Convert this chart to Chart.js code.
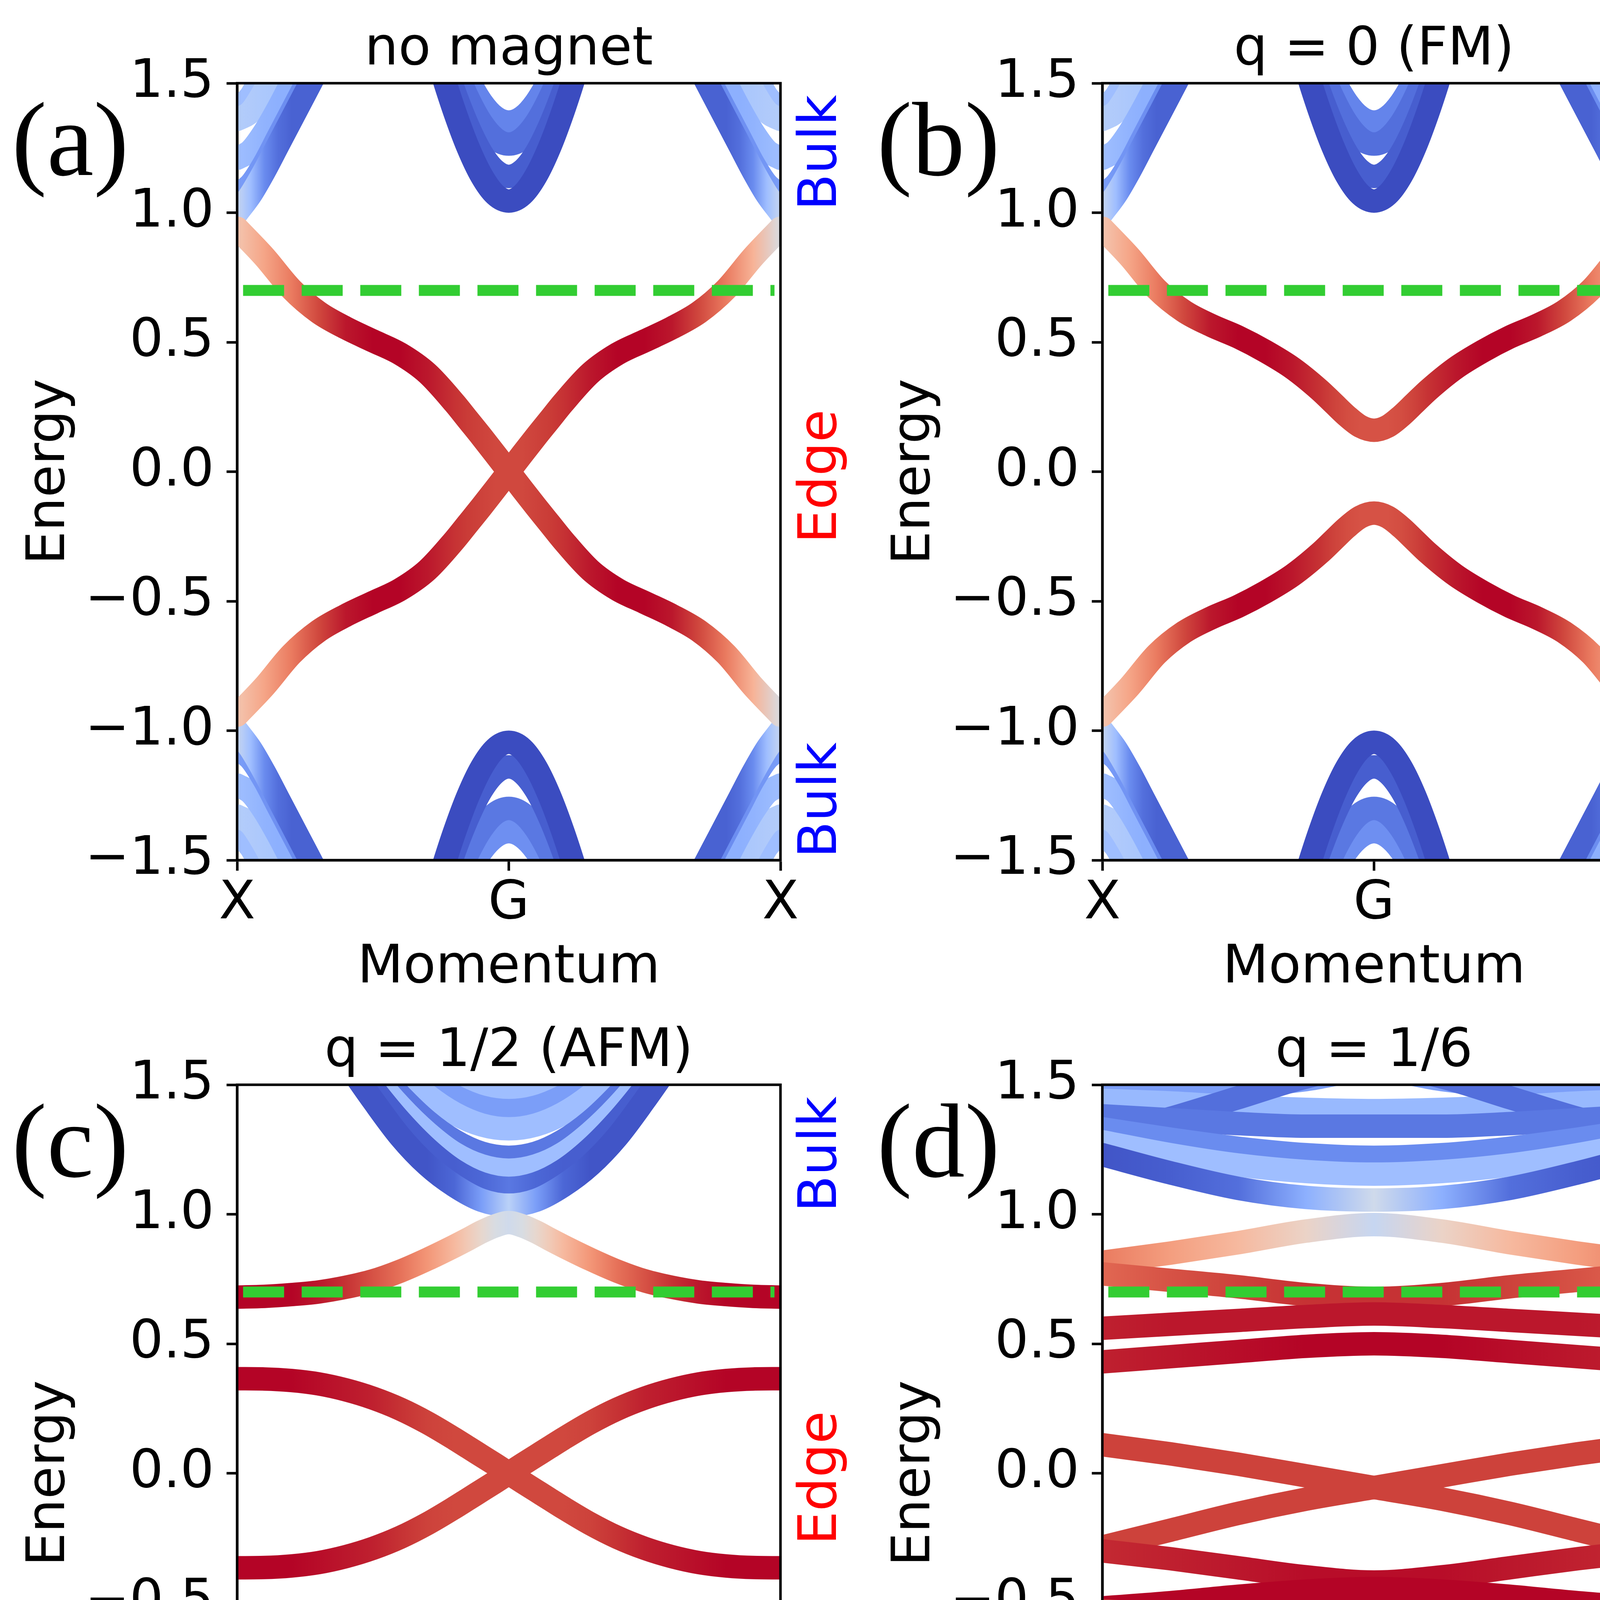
<!DOCTYPE html>
<html><head><meta charset="utf-8">
<script src="https://cdn.jsdelivr.net/npm/chart.js@4.4.0/dist/chart.umd.min.js"></script>
<style>
html,body{margin:0;padding:0;background:#fff;}
#wrap{position:relative;width:4430px;height:5178px;background:#fff;overflow:hidden;}
canvas{position:absolute;width:2215px;height:2589px;}
</style></head><body><div id="wrap">
<canvas id="ca" width="2215" height="2589" style="left:0px;top:0px"></canvas>
<canvas id="cb" width="2215" height="2589" style="left:2215px;top:0px"></canvas>
<canvas id="cc" width="2215" height="2589" style="left:0px;top:2564px"></canvas>
<canvas id="cd" width="2215" height="2589" style="left:2215px;top:2564px"></canvas>
</div>
<script>
// ---------------- axis / label data ----------------
const yTicks = [-1.5, -1.0, -0.5, 0.0, 0.5, 1.0, 1.5];
const xTickVals = [-1, 0, 1];
const xTickLabels = ['X', 'G', 'X'];
const panelTitles = ['no magnet', 'q = 0 (FM)', 'q = 1/2 (AFM)', 'q = 1/6'];
const panelTags = ['(a)', '(b)', '(c)', '(d)'];
const sideLabels = ['Bulk', 'Edge', 'Bulk'];
const sideLabelE = [1.25, 0, -1.25];
const sideLabelColors = ['#0000ff', '#ff0000', '#0000ff'];
const fermiE = 0.7;
const fermiK = [-0.978, 0.978];

// ---------------- momentum grids ----------------
const kE = [-1,-0.9,-0.8,-0.7,-0.6,-0.5,-0.4,-0.3,-0.2,-0.15,-0.1,-0.05,0,0.05,0.1,0.15,0.2,0.3,0.4,0.5,0.6,0.7,0.8,0.9,1];
const kG = [-0.35,-0.3,-0.25,-0.2,-0.15,-0.1,-0.05,0,0.05,0.1,0.15,0.2,0.25,0.3,0.35];
const kXL = [-1,-0.95,-0.9,-0.85,-0.8,-0.75,-0.7,-0.65,-0.6];
const kXR = [0.6,0.65,0.7,0.75,0.8,0.85,0.9,0.95,1];
const kC = [-0.8,-0.7,-0.6,-0.5,-0.4,-0.3,-0.2,-0.1,0,0.1,0.2,0.3,0.4,0.5,0.6,0.7,0.8];
const kD = [-1,-0.75,-0.5,-0.25,0,0.25,0.5,0.75,1];

// ---------------- (a) no magnet ----------------
const aEdgeDown = [0.94,0.83,0.705,0.615,0.555,0.505,0.455,0.38,0.265,0.2,0.135,0.068,0,-0.068,-0.135,-0.2,-0.265,-0.38,-0.455,-0.505,-0.555,-0.615,-0.705,-0.83,-0.94];
const aEdgeUp = [-0.94,-0.83,-0.705,-0.615,-0.555,-0.505,-0.455,-0.38,-0.265,-0.2,-0.135,-0.068,0,0.068,0.135,0.2,0.265,0.38,0.455,0.505,0.555,0.615,0.705,0.83,0.94];
const aEdgeW = [0.62,0.72,0.82,0.92,0.98,1,1,0.98,0.95,0.94,0.93,0.92,0.92,0.92,0.93,0.94,0.95,0.98,1,1,0.98,0.92,0.82,0.68,0.48];

// ---------------- (b) q = 0 ----------------
const bEdgeUpper = [0.94,0.83,0.705,0.62,0.565,0.52,0.465,0.4,0.315,0.265,0.215,0.175,0.16,0.175,0.215,0.265,0.315,0.4,0.465,0.52,0.565,0.62,0.705,0.83,0.94];
const bEdgeLower = [-0.94,-0.83,-0.705,-0.62,-0.565,-0.52,-0.465,-0.4,-0.315,-0.265,-0.215,-0.175,-0.16,-0.175,-0.215,-0.265,-0.315,-0.4,-0.465,-0.52,-0.565,-0.62,-0.705,-0.83,-0.94];
const bEdgeW = [0.62,0.72,0.82,0.92,0.98,1,1,0.98,0.95,0.93,0.91,0.9,0.9,0.9,0.91,0.93,0.95,0.98,1,1,0.98,0.92,0.82,0.72,0.6];

// bulk bands shared by (a) and (b): around G
const abBulkGUp = [
  [1.919,1.731,1.554,1.392,1.252,1.142,1.070,1.045,1.070,1.142,1.252,1.392,1.554,1.731,1.919],
  [1.97,1.78,1.619,1.465,1.333,1.229,1.163,1.14,1.163,1.229,1.333,1.465,1.619,1.78,1.97],
  [2.04,1.87,1.71,1.564,1.441,1.346,1.286,1.265,1.286,1.346,1.441,1.564,1.71,1.87,2.04],
  [2.08,1.92,1.77,1.63,1.516,1.426,1.369,1.35,1.369,1.426,1.516,1.63,1.77,1.92,2.08]
];
const abBulkGUpW = [0.0, 0.04, 0.08, 0.13];
const abBulkGLow = [
  [-1.919,-1.731,-1.554,-1.392,-1.252,-1.142,-1.070,-1.045,-1.070,-1.142,-1.252,-1.392,-1.554,-1.731,-1.919],
  [-1.97,-1.78,-1.619,-1.465,-1.333,-1.229,-1.163,-1.14,-1.163,-1.229,-1.333,-1.465,-1.619,-1.78,-1.97],
  [-2.07,-1.9,-1.74,-1.592,-1.472,-1.379,-1.32,-1.30,-1.32,-1.379,-1.472,-1.592,-1.74,-1.9,-2.07],
  [-2.12,-1.96,-1.81,-1.67,-1.552,-1.464,-1.409,-1.39,-1.409,-1.464,-1.552,-1.67,-1.81,-1.96,-2.12]
];
const abBulkGLowW = [0.0, 0.04, 0.1, 0.16];
// bulk bands near X (left side listed from k=-1 inward)
const abBulkXUp = [
  [1.40,1.45,1.55,1.65,1.75,1.85,1.95,2.05,2.15],
  [1.36,1.39,1.47,1.57,1.67,1.77,1.87,1.97,2.07],
  [1.21,1.24,1.31,1.40,1.50,1.60,1.70,1.80,1.90],
  [1.07,1.11,1.19,1.29,1.39,1.49,1.59,1.69,1.79],
  [1.00,1.07,1.16,1.26,1.36,1.46,1.56,1.66,1.76]
];
const abBulkXUpW = [
  [0.3,0.3,0.3,0.3,0.3,0.3,0.3,0.3,0.3],
  [0.36,0.35,0.34,0.33,0.33,0.33,0.33,0.33,0.33],
  [0.3,0.28,0.26,0.25,0.25,0.25,0.25,0.25,0.25],
  [0.2,0.18,0.17,0.16,0.15,0.15,0.15,0.15,0.15],
  [0.42,0.3,0.15,0.08,0.05,0.05,0.05,0.05,0.05]
];
const abBulkXLow = [
  [-1.40,-1.45,-1.55,-1.65,-1.75,-1.85,-1.95,-2.05,-2.15],
  [-1.33,-1.36,-1.44,-1.54,-1.64,-1.74,-1.84,-1.94,-2.04],
  [-1.21,-1.24,-1.31,-1.40,-1.50,-1.60,-1.70,-1.80,-1.90],
  [-1.07,-1.11,-1.19,-1.29,-1.39,-1.49,-1.59,-1.69,-1.79],
  [-1.00,-1.07,-1.16,-1.26,-1.36,-1.46,-1.56,-1.66,-1.76]
];
const abBulkXLowW = abBulkXUpW;

// ---------------- (c) q = 1/2 ----------------
const cEdgeTop = [0.68,0.683,0.69,0.70,0.718,0.743,0.78,0.826,0.877,0.904,0.932,0.955,0.968,0.955,0.932,0.904,0.877,0.826,0.78,0.743,0.718,0.70,0.69,0.683,0.68];
const cEdgeBot = [-0.68,-0.683,-0.69,-0.70,-0.718,-0.743,-0.78,-0.826,-0.877,-0.904,-0.932,-0.955,-0.968,-0.955,-0.932,-0.904,-0.877,-0.826,-0.78,-0.743,-0.718,-0.70,-0.69,-0.683,-0.68];
const cEdgeOuterW = [1,1,1,0.98,0.95,0.9,0.84,0.76,0.66,0.6,0.54,0.48,0.45,0.48,0.54,0.6,0.66,0.76,0.84,0.9,0.95,0.98,1,1,1];
const cEdgeMidDown = [0.365,0.364,0.358,0.345,0.322,0.29,0.248,0.195,0.133,0.1,0.067,0.034,0,-0.034,-0.067,-0.1,-0.133,-0.195,-0.248,-0.29,-0.322,-0.345,-0.358,-0.364,-0.365];
const cEdgeMidUp = [-0.365,-0.364,-0.358,-0.345,-0.322,-0.29,-0.248,-0.195,-0.133,-0.1,-0.067,-0.034,0,0.034,0.067,0.1,0.133,0.195,0.248,0.29,0.322,0.345,0.358,0.364,0.365];
const cEdgeMidW = [1,1,1,0.99,0.98,0.97,0.95,0.93,0.92,0.92,0.92,0.92,0.92,0.92,0.92,0.92,0.92,0.93,0.95,0.97,0.98,0.99,1,1,1];
const cBulkUp = [
  [2.2,2.06,1.92,1.80,1.69,1.60,1.533,1.493,1.48,1.493,1.533,1.60,1.69,1.80,1.92,2.06,2.2],
  [2.13,1.98,1.84,1.72,1.61,1.52,1.456,1.414,1.40,1.414,1.456,1.52,1.61,1.72,1.84,1.98,2.13],
  [2.09,1.93,1.79,1.66,1.552,1.459,1.389,1.345,1.33,1.345,1.389,1.459,1.552,1.66,1.79,1.93,2.09],
  [2.02,1.86,1.71,1.577,1.459,1.359,1.284,1.236,1.22,1.236,1.284,1.359,1.459,1.577,1.71,1.86,2.02],
  [2.0,1.83,1.68,1.539,1.417,1.315,1.235,1.187,1.17,1.187,1.235,1.315,1.417,1.539,1.68,1.83,2.0],
  [1.95,1.78,1.628,1.487,1.36,1.253,1.17,1.118,1.10,1.118,1.17,1.253,1.36,1.487,1.628,1.78,1.95],
  [1.91,1.745,1.59,1.44,1.30,1.19,1.11,1.054,1.035,1.054,1.11,1.19,1.30,1.44,1.59,1.745,1.91]
];
const cBulkUpW = [
  [0.3,0.3,0.3,0.3,0.3,0.3,0.3,0.3,0.3,0.3,0.3,0.3,0.3,0.3,0.3,0.3,0.3],
  [0.2,0.2,0.2,0.2,0.2,0.2,0.2,0.2,0.2,0.2,0.2,0.2,0.2,0.2,0.2,0.2,0.2],
  [0.3,0.3,0.3,0.3,0.3,0.3,0.3,0.3,0.3,0.3,0.3,0.3,0.3,0.3,0.3,0.3,0.3],
  [0.1,0.1,0.1,0.1,0.1,0.1,0.1,0.1,0.1,0.1,0.1,0.1,0.1,0.1,0.1,0.1,0.1],
  [0.3,0.3,0.3,0.3,0.3,0.3,0.3,0.3,0.3,0.3,0.3,0.3,0.3,0.3,0.3,0.3,0.3],
  [0.04,0.04,0.04,0.04,0.04,0.04,0.04,0.06,0.1,0.06,0.04,0.04,0.04,0.04,0.04,0.04,0.04],
  [0.02,0.02,0.02,0.02,0.02,0.02,0.06,0.2,0.38,0.2,0.06,0.02,0.02,0.02,0.02,0.02,0.02]
];
const cBulkLow = [
  [-2.14,-1.99,-1.85,-1.73,-1.66,-1.585,-1.523,-1.484,-1.47,-1.484,-1.523,-1.585,-1.66,-1.73,-1.85,-1.99,-2.14],
  [-2.09,-1.93,-1.79,-1.66,-1.552,-1.459,-1.389,-1.345,-1.33,-1.345,-1.389,-1.459,-1.552,-1.66,-1.79,-1.93,-2.09],
  [-2.04,-1.88,-1.73,-1.60,-1.484,-1.387,-1.312,-1.266,-1.25,-1.266,-1.312,-1.387,-1.484,-1.60,-1.73,-1.88,-2.04],
  [-2.0,-1.83,-1.68,-1.539,-1.417,-1.315,-1.235,-1.187,-1.17,-1.187,-1.235,-1.315,-1.417,-1.539,-1.68,-1.83,-2.0],
  [-1.95,-1.78,-1.628,-1.487,-1.36,-1.253,-1.17,-1.118,-1.10,-1.118,-1.17,-1.253,-1.36,-1.487,-1.628,-1.78,-1.95],
  [-1.91,-1.745,-1.59,-1.44,-1.30,-1.19,-1.11,-1.054,-1.035,-1.054,-1.11,-1.19,-1.30,-1.44,-1.59,-1.745,-1.91]
];
const cBulkLowW = [
  [0.2,0.2,0.2,0.2,0.2,0.2,0.2,0.2,0.2,0.2,0.2,0.2,0.2,0.2,0.2,0.2,0.2],
  [0.3,0.3,0.3,0.3,0.3,0.3,0.3,0.3,0.3,0.3,0.3,0.3,0.3,0.3,0.3,0.3,0.3],
  [0.1,0.1,0.1,0.1,0.1,0.1,0.1,0.1,0.1,0.1,0.1,0.1,0.1,0.1,0.1,0.1,0.1],
  [0.3,0.3,0.3,0.3,0.3,0.3,0.3,0.3,0.3,0.3,0.3,0.3,0.3,0.3,0.3,0.3,0.3],
  [0.04,0.04,0.04,0.04,0.04,0.04,0.04,0.06,0.1,0.06,0.04,0.04,0.04,0.04,0.04,0.04,0.04],
  [0.02,0.02,0.02,0.02,0.02,0.02,0.06,0.2,0.38,0.2,0.06,0.02,0.02,0.02,0.02,0.02,0.02]
];

// ---------------- (d) q = 1/6 ----------------
const dEdge = [
  [0.815,0.85,0.89,0.935,0.96,0.935,0.89,0.85,0.815],
  [0.77,0.745,0.72,0.69,0.675,0.69,0.72,0.745,0.77],
  [0.56,0.575,0.59,0.605,0.615,0.605,0.59,0.575,0.56],
  [0.43,0.45,0.47,0.49,0.5,0.49,0.47,0.45,0.43],
  [0.11,0.075,0.035,-0.01,-0.055,-0.1,-0.155,-0.22,-0.285],
  [-0.285,-0.22,-0.155,-0.1,-0.055,-0.01,0.035,0.075,0.11],
  [-0.30,-0.33,-0.365,-0.40,-0.42,-0.40,-0.365,-0.33,-0.30],
  [-0.52,-0.50,-0.475,-0.455,-0.445,-0.455,-0.475,-0.50,-0.52],
  [-0.53,-0.55,-0.565,-0.575,-0.58,-0.575,-0.565,-0.55,-0.53],
  [-0.67,-0.655,-0.64,-0.625,-0.615,-0.625,-0.64,-0.655,-0.67],
  [-0.88,-0.895,-0.915,-0.945,-0.965,-0.945,-0.915,-0.895,-0.88]
];
const dEdgeW = [
  [0.82,0.74,0.66,0.56,0.42,0.56,0.66,0.74,0.82],
  [0.86,0.9,0.93,0.95,0.95,0.95,0.93,0.9,0.86],
  [0.97,0.98,0.98,0.98,0.98,0.98,0.98,0.98,0.97],
  [0.97,0.98,0.99,1,1,1,0.99,0.98,0.97],
  [0.93,0.93,0.93,0.93,0.93,0.93,0.93,0.93,0.93],
  [0.93,0.93,0.93,0.93,0.93,0.93,0.93,0.93,0.93],
  [0.96,0.97,0.98,0.99,0.99,0.99,0.98,0.97,0.96],
  [1,1,1,1,1,1,1,1,1],
  [0.95,0.95,0.95,0.95,0.95,0.95,0.95,0.95,0.95],
  [0.88,0.88,0.89,0.9,0.9,0.9,0.89,0.88,0.88],
  [0.82,0.76,0.68,0.57,0.42,0.57,0.68,0.76,0.82]
];
const dBulkUp = [
  [1.46,1.47,1.49,1.52,1.56,1.52,1.49,1.47,1.46],
  [1.44,1.43,1.415,1.405,1.40,1.405,1.415,1.43,1.44],
  [1.30,1.37,1.45,1.53,1.58,1.53,1.45,1.37,1.30],
  [1.38,1.365,1.35,1.34,1.34,1.34,1.35,1.365,1.38],
  [1.33,1.29,1.255,1.23,1.22,1.23,1.255,1.29,1.33],
  [1.28,1.23,1.19,1.165,1.155,1.165,1.19,1.23,1.28],
  [1.23,1.16,1.10,1.065,1.055,1.065,1.10,1.16,1.23]
];
const dBulkUpW = [
  [0.2,0.2,0.2,0.2,0.2,0.2,0.2,0.2,0.2],
  [0.28,0.28,0.28,0.28,0.28,0.28,0.28,0.28,0.28],
  [0.08,0.08,0.08,0.08,0.08,0.08,0.08,0.08,0.08],
  [0.1,0.1,0.1,0.1,0.1,0.1,0.1,0.1,0.1],
  [0.15,0.15,0.15,0.15,0.15,0.15,0.15,0.15,0.15],
  [0.3,0.3,0.3,0.3,0.3,0.3,0.3,0.3,0.3],
  [0.02,0.04,0.08,0.25,0.45,0.25,0.08,0.04,0.02]
];
const dBulkLow = [
  [-1.44,-1.46,-1.49,-1.52,-1.55,-1.52,-1.49,-1.46,-1.44],
  [-1.42,-1.41,-1.40,-1.39,-1.385,-1.39,-1.40,-1.41,-1.42],
  [-1.30,-1.36,-1.44,-1.52,-1.57,-1.52,-1.44,-1.36,-1.30],
  [-1.36,-1.345,-1.33,-1.32,-1.32,-1.32,-1.33,-1.345,-1.36],
  [-1.30,-1.27,-1.24,-1.22,-1.215,-1.22,-1.24,-1.27,-1.30],
  [-1.27,-1.22,-1.18,-1.16,-1.15,-1.16,-1.18,-1.22,-1.27],
  [-1.22,-1.15,-1.09,-1.05,-1.035,-1.05,-1.09,-1.15,-1.22]
];
const dBulkLowW = [
  [0.1,0.1,0.1,0.1,0.1,0.1,0.1,0.1,0.1],
  [0.3,0.3,0.3,0.3,0.3,0.3,0.3,0.3,0.3],
  [0.15,0.15,0.15,0.15,0.15,0.15,0.15,0.15,0.15],
  [0.08,0.08,0.08,0.08,0.08,0.08,0.08,0.08,0.08],
  [0.35,0.35,0.35,0.35,0.35,0.35,0.35,0.35,0.35],
  [0.2,0.2,0.2,0.2,0.2,0.2,0.2,0.2,0.2],
  [0.05,0.05,0.1,0.3,0.45,0.3,0.1,0.05,0.05]
];

// ---------------- colormap (coolwarm) ----------------
const CW = [[0,59,76,192],[0.0625,77,104,215],[0.125,98,130,234],[0.1875,119,154,247],[0.25,141,176,254],[0.3125,163,194,255],[0.375,184,208,249],[0.4375,204,217,238],[0.5,221,221,221],[0.5625,236,211,198],[0.625,245,196,173],[0.6875,247,177,148],[0.75,244,154,123],[0.8125,236,127,99],[0.875,222,96,77],[0.9375,203,62,56],[1,180,4,38]];
function coolwarm(t){
  t = Math.max(0, Math.min(1, t));
  for (let i = 1; i < CW.length; i++) {
    if (t <= CW[i][0]) {
      const a = CW[i-1], b = CW[i], f = (t - a[0]) / (b[0] - a[0]);
      const c = [1,2,3].map(j => Math.round(a[j] + (b[j]-a[j]) * f));
      return `rgb(${c[0]},${c[1]},${c[2]})`;
    }
  }
  return 'rgb(180,4,38)';
}

// ---------------- styles ----------------
const FONT = 'DejaVu Sans';
const FS = 136;
const BAND_W = 60;
const SPINE_W = 6.5;
const TICK_LEN = 27;

function gradientFor(chart, ks, ws) {
  const area = chart.chartArea;
  if (!area) return coolwarm(Array.isArray(ws) ? ws[0] : ws);
  if (!Array.isArray(ws)) return coolwarm(ws);
  const xs = chart.scales.x;
  const x0 = xs.getPixelForValue(ks[0]), x1 = xs.getPixelForValue(ks[ks.length-1]);
  const g = chart.ctx.createLinearGradient(x0, 0, x1, 0);
  ks.forEach((k, i) => {
    const t = (xs.getPixelForValue(k) - x0) / (x1 - x0);
    g.addColorStop(Math.min(1, Math.max(0, t)), coolwarm(ws[i]));
  });
  return g;
}

function band(ks, Es, ws) {
  return {
    data: ks.map((k, i) => ({x: k, y: Es[i]})),
    borderColor: (ctx) => gradientFor(ctx.chart, ks, ws),
    borderWidth: BAND_W,
    pointRadius: 0, pointHoverRadius: 0,
    cubicInterpolationMode: 'monotone',
    borderJoinStyle: 'round', borderCapStyle: 'round',
    fill: false, clip: 0
  };
}
function reversed(a){ return a.slice().reverse(); }

function fermiLine() {
  return {
    data: fermiK.map(k => ({x: k, y: fermiE})),
    borderColor: '#32cd32', borderWidth: 28, borderDash: [105, 45],
    borderCapStyle: 'butt', pointRadius: 0, pointHoverRadius: 0, fill: false, clip: 0
  };
}

function buildABbulk(list) {
  abBulkXUp.forEach((E, i) => { list.push(band(kXL, E, abBulkXUpW[i])); list.push(band(kXR, reversed(E), reversed(abBulkXUpW[i]))); });
  abBulkXLow.forEach((E, i) => { list.push(band(kXL, E, abBulkXLowW[i])); list.push(band(kXR, reversed(E), reversed(abBulkXLowW[i]))); });
  abBulkGUp.slice().reverse().forEach((E, i, arr) => list.push(band(kG, E, abBulkGUpW[arr.length-1-i])));
  abBulkGLow.slice().reverse().forEach((E, i, arr) => list.push(band(kG, E, abBulkGLowW[arr.length-1-i])));
}

const panelBands = [
  () => { const L = []; buildABbulk(L); L.push(band(kE, aEdgeDown, aEdgeW)); L.push(band(kE, aEdgeUp, aEdgeW)); L.push(fermiLine()); return L; },
  () => { const L = []; buildABbulk(L); L.push(band(kE, bEdgeUpper, bEdgeW)); L.push(band(kE, bEdgeLower, bEdgeW)); L.push(fermiLine()); return L; },
  () => { const L = [];
    cBulkUp.forEach((E, i) => L.push(band(kC, E, cBulkUpW[i])));
    cBulkLow.forEach((E, i) => L.push(band(kC, E, cBulkLowW[i])));
    L.push(band(kE, cEdgeTop, cEdgeOuterW)); L.push(band(kE, cEdgeBot, cEdgeOuterW));
    L.push(band(kE, cEdgeMidDown, cEdgeMidW)); L.push(band(kE, cEdgeMidUp, cEdgeMidW));
    L.push(fermiLine()); return L; },
  () => { const L = [];
    dBulkUp.forEach((E, i) => L.push(band(kD, E, dBulkUpW[i])));
    dBulkLow.forEach((E, i) => L.push(band(kD, E, dBulkLowW[i])));
    dEdge.forEach((E, i) => L.push(band(kD, E, dEdgeW[i])));
    L.push(fermiLine()); return L; }
];

const decor = {
  id: 'decor',
  afterDatasetsDraw(chart, args, opts) {
    const {ctx, chartArea: a} = chart;
    ctx.save();
    ctx.strokeStyle = '#000'; ctx.lineWidth = SPINE_W;
    ctx.strokeRect(a.left, a.top, a.right - a.left, a.bottom - a.top);
    ctx.restore();
  },
  afterDraw(chart, args, opts) {
    const {ctx, chartArea: a} = chart;
    const y = chart.scales.y;
    ctx.save();
    ctx.fillStyle = '#000';
    ctx.font = `${FS}px "${FONT}"`;
    ctx.textAlign = 'center'; ctx.textBaseline = 'alphabetic';
    ctx.fillText(opts.title, (a.left + a.right) / 2, a.top - 48);
    ctx.font = `270px "Liberation Serif"`;
    ctx.textAlign = 'left';
    ctx.fillText(opts.tag, 30, a.top + 235);
    ctx.font = `${FS}px "${FONT}"`;
    sideLabels.forEach((lab, i) => {
      ctx.save();
      ctx.translate(a.right + 142, y.getPixelForValue(sideLabelE[i]) + 12);
      ctx.rotate(-Math.PI / 2);
      ctx.textAlign = 'center';
      ctx.fillStyle = sideLabelColors[i];
      ctx.fillText(lab, 0, 0);
      ctx.restore();
    });
    ctx.restore();
  }
};

function fmtY(v) {
  const s = Math.abs(v).toFixed(1);
  return v < -1e-9 ? '\u2212' + s : s;
}

['ca','cb','cc','cd'].forEach((id, p) => {
  const datasets = panelBands[p]();
  const N = datasets.length;
  datasets.forEach((d, i) => { d.order = N - i; });
  new Chart(document.getElementById(id), {
    type: 'line',
    data: { datasets },
    options: {
      responsive: false, animation: false, devicePixelRatio: 1, events: [],
      layout: { padding: { left: 0, top: 213, right: 217, bottom: 0 } },
      plugins: { legend: { display: false }, tooltip: { enabled: false },
        decor: { title: panelTitles[p], tag: panelTags[p] } },
      scales: {
        x: {
          type: 'linear', min: -1, max: 1,
          afterBuildTicks: (s) => { s.ticks = xTickVals.map(v => ({value: v})); },
          afterFit: (s) => { s.height = 387; },
          ticks: { autoSkip: false, maxRotation: 0, padding: 5, color: '#000',
            font: { family: FONT, size: FS },
            callback: (v, i) => xTickLabels[i] },
          grid: { display: true, drawOnChartArea: false, drawTicks: true, tickLength: TICK_LEN, tickWidth: SPINE_W, tickColor: '#000' },
          border: { display: true, color: '#000', width: SPINE_W },
          title: { display: true, text: 'Momentum', color: '#000', font: { family: FONT, size: FS }, padding: { top: 0, bottom: 28 } }
        },
        y: {
          type: 'linear', min: -1.5, max: 1.5,
          afterBuildTicks: (s) => { s.ticks = yTicks.map(v => ({value: v})); },
          afterFit: (s) => { s.width = 607; },
          ticks: { autoSkip: false, padding: 32, color: '#000',
            font: { family: FONT, size: FS },
            callback: (v) => fmtY(v) },
          grid: { display: true, drawOnChartArea: false, drawTicks: true, tickLength: TICK_LEN, tickWidth: SPINE_W, tickColor: '#000' },
          border: { display: true, color: '#000', width: SPINE_W },
          title: { display: true, text: 'Energy', color: '#000', font: { family: FONT, size: FS }, padding: { top: 47, bottom: 0 } }
        }
      }
    },
    plugins: [decor]
  });
});
</script></body></html>
